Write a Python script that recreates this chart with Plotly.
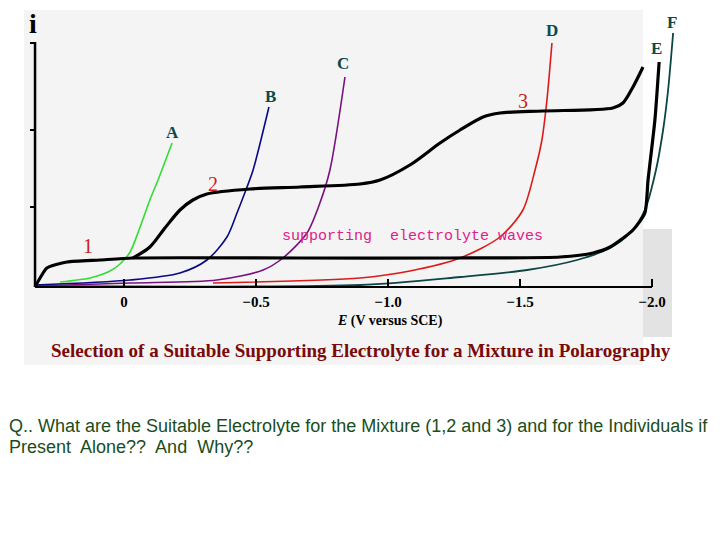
import plotly.graph_objects as go

# ---- data (E in V vs SCE, i in arbitrary units) ----
mix_E = [-0.034, -0.098, -0.155, -0.212, -0.261, -0.314, -0.477, -0.667, -0.894, -0.970,
         -1.083, -1.197, -1.273, -1.360, -1.424, -1.587, -1.852, -1.890, -1.928, -1.966]
mix_i = [1.16, 1.60, 2.36, 3.08, 3.48, 3.72, 3.92, 4.00, 4.12, 4.28,
         4.88, 5.76, 6.28, 6.80, 6.96, 7.04, 7.16, 7.36, 8.00, 8.80]

E_E = [0.337, 0.318, 0.292, 0.216, 0.091, -0.034, -0.667, -1.235, -1.652, -1.777,
       -1.841, -1.928, -1.973, -1.985, -2.011, -2.027]
E_i = [0.0, 0.36, 0.76, 1.00, 1.08, 1.16, 1.16, 1.16, 1.20, 1.36,
       1.60, 2.28, 2.96, 4.28, 6.68, 9.00]

A_E = [0.242, 0.129, 0.053, 0.015, -0.023, -0.061, -0.098, -0.129, -0.182]
A_i = [0.20, 0.36, 0.64, 0.92, 1.40, 2.40, 3.48, 4.28, 5.76]

B_E = [0.337, -0.023, -0.212, -0.314, -0.390, -0.428, -0.466, -0.489, -0.549]
B_i = [0.08, 0.28, 0.56, 1.08, 2.00, 2.96, 4.00, 4.68, 7.20]

C_E = [0.337, -0.023, -0.352, -0.527, -0.602, -0.693, -0.742, -0.780, -0.837]
C_i = [0.04, 0.16, 0.28, 0.68, 1.16, 2.16, 3.36, 4.68, 8.40]

D_E = [-0.337, -0.894, -1.083, -1.273, -1.424, -1.511, -1.557, -1.583, -1.602, -1.621]
D_i = [0.16, 0.36, 0.64, 1.16, 2.00, 3.08, 4.68, 5.88, 7.48, 9.76]

F_E = [0.337, -0.894, -1.273, -1.527, -1.716, -1.841, -1.917, -1.973, -2.015, -2.042, -2.061, -2.080]
F_i = [0.04, 0.08, 0.40, 0.68, 1.08, 1.56, 2.16, 3.08, 4.68, 6.28, 7.88, 10.16]

x_ticks = [0, -0.5, -1.0, -1.5, -2.0]
x_ticktext = ["0", "\u22120.5", "\u22121.0", "\u22121.5", "\u22122.0"]
y_ticks = [3.2, 6.28, 9.76]

W, H = 720, 540
def px(x): return x / W
def py(y): return 1 - y / H

fig = go.Figure()

def add(xs, ys, color, width, smooth=0.8):
    fig.add_trace(go.Scatter(x=xs, y=ys, mode="lines",
                             line=dict(color=color, width=width, shape="spline", smoothing=smooth),
                             hoverinfo="skip"))

add(F_E, F_i, "#0b4545", 1.8)
add(D_E, D_i, "#dd1a1a", 1.6)
add(C_E, C_i, "#7a1080", 1.6)
add(B_E, B_i, "#0a0a80", 1.6)
add(A_E, A_i, "#33dd33", 1.6)
add(E_E, E_i, "#000000", 3.2, 0.6)
add(mix_E, mix_i, "#000000", 3.2)

shapes = [
    dict(type="rect", xref="paper", yref="paper", x0=px(24), x1=px(643), y0=py(365), y1=py(10),
         fillcolor="#f4f4f4", line=dict(width=0), layer="below"),
    dict(type="rect", xref="paper", yref="paper", x0=px(643), x1=px(672), y0=py(337), y1=py(229),
         fillcolor="#e3e3e3", line=dict(width=0), layer="below"),
    dict(type="line", xref="x", yref="y", x0=0.337, x1=-2.0, y0=0, y1=0,
         line=dict(color="black", width=2)),
    dict(type="line", xref="x", yref="y", x0=0.337, x1=0.337, y0=0, y1=9.8,
         line=dict(color="black", width=2.5)),
]

serif = "Liberation Serif"
ann = []
def label(text, x, y, size, color, family=serif, bold=True, xanchor="center"):
    ann.append(dict(text=text, xref="paper", yref="paper", x=px(x), y=py(y),
                    xanchor=xanchor, yanchor="middle", showarrow=False,
                    font=dict(family=family, size=size, color=color,
                              weight="bold" if bold else "normal")))

lab_col = "#0a4a4a"
label("i", 33, 23, 28, "black")
label("A", 172, 133, 17, lab_col)
label("B", 270, 97, 17, lab_col)
label("C", 343, 64, 17, lab_col)
label("D", 552, 30, 17, lab_col)
label("E", 656, 48, 17, lab_col)
label("F", 672, 22, 17, lab_col)
label("1", 88, 246, 20, "#cc2020", bold=False)
label("2", 213, 184, 20, "#cc2020", bold=False)
label("3", 523, 101, 20, "#cc2020", bold=False)
label("supporting\u00a0 electrolyte waves", 412, 236, 15, "#e0208a", family="Liberation Mono", bold=False)
label("<i>E</i> (V versus SCE)", 390, 321, 14, "black")
label("Selection of a Suitable Supporting Electrolyte for a Mixture in Polarography", 361, 350, 19, "#7a0a0a")
label("Q.. What are the Suitable Electrolyte for the Mixture (1,2 and 3) and for the Individuals if",
      7, 426, 18, "#1b4d1b", family="Liberation Sans", bold=False, xanchor="left")
label("Present\u00a0 Alone??\u00a0 And\u00a0 Why??",
      7, 447, 18, "#1b4d1b", family="Liberation Sans", bold=False, xanchor="left")

fig.update_layout(
    width=W, height=H, autosize=False,
    margin=dict(l=0, r=0, t=0, b=0),
    paper_bgcolor="white", plot_bgcolor="rgba(0,0,0,0)",
    showlegend=False,
    shapes=shapes, annotations=ann,
    xaxis=dict(range=[124 / 264, (124 - 720) / 264], domain=[0, 1],
               showgrid=False, zeroline=False, showline=False,
               tickvals=x_ticks, ticktext=x_ticktext,
               ticks="inside", ticklen=8, tickwidth=1.5, tickcolor="black",
               ticklabelstandoff=4,
               anchor="free", position=(540 - 287) / 540,
               tickfont=dict(family=serif, size=15, color="black", weight="bold")),
    yaxis=dict(range=[(287 - 540) / 25, 287 / 25], domain=[0, 1],
               showgrid=False, zeroline=False, showline=False,
               tickvals=y_ticks, showticklabels=False,
               ticks="outside", ticklen=5, tickwidth=2, tickcolor="black",
               anchor="free", position=35 / 720),
)

fig.write_html("out.html", config={"displayModeBar": False},
               post_script="document.body.style.margin='0px';")
